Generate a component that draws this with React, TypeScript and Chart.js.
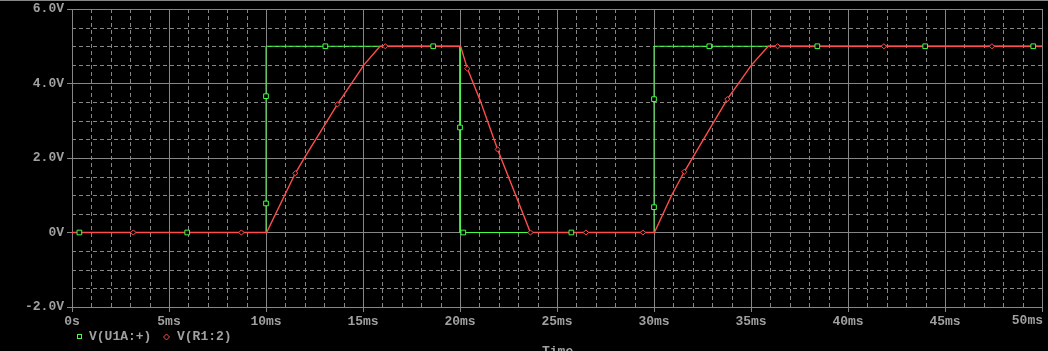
import React, { useEffect, useRef } from "react";
import { Chart, registerables } from "chart.js";

Chart.register(...registerables);

// ---- data ----
const seriesNames = ["V(U1A:+)", "V(R1:2)"];

const xTickValues = [0, 5, 10, 15, 20, 25, 30, 35, 40, 45, 50];
const xTickLabels = ["0s", "5ms", "10ms", "15ms", "20ms", "25ms", "30ms", "35ms", "40ms", "45ms", "50ms"];
const yTickValues = [-2, 0, 2, 4, 6];
const yTickLabels = ["-2.0V", "0V", "2.0V", "4.0V", "6.0V"];
const xTitle = "Time";

// V(U1A:+) – square wave (time in ms, volts)
const greenLineT = [0, 10, 10, 20, 20, 30, 30, 50];
const greenLineV = [0, 0, 5, 5, 0, 0, 5, 5];
const greenMarkT = [0.38, 5.94, 10, 10, 13.06, 18.62, 20, 20.17, 25.74, 30, 30, 32.85, 38.42, 43.98, 49.55];
const greenMarkV = [0, 0, 0.78, 3.66, 5, 5, 2.82, 0, 0, 0.68, 3.58, 5, 5, 5, 5];

// V(R1:2) – slew-limited response
const redLineT = [0, 10.03, 11.51, 12.01, 13.68, 15.05, 15.88, 20.03, 20.38, 21.03, 21.94, 23.63, 30.02, 30.91, 31.56, 33.78, 35.03, 35.89, 50];
const redLineV = [0, 0, 1.59, 2.03, 3.44, 4.5, 5, 5, 4.4, 3.56, 2.23, 0, 0, 1.0, 1.63, 3.58, 4.5, 5, 5];
const redMarkT = [3.16, 8.73, 11.51, 13.68, 16.15, 20.38, 21.94, 23.63, 26.49, 29.43, 31.56, 33.78, 36.37, 41.85, 47.42];
const redMarkV = [0, 0, 1.59, 3.44, 5, 4.4, 2.23, 0, 0, 0, 1.63, 3.58, 5, 5, 5];

// ---- styles ----
const GREEN = "#44ff44";
const RED = "#ff4d4d";
const GRID = "#868686";
const TEXT = "#a0a0a0";
const FONT_FAMILY = '"Liberation Mono", "DejaVu Sans Mono", monospace';
const FONT_SIZE = 13;
const FONT_WEIGHT = "bold";

const toXY = (t: number[], v: number[]) => t.map((x, i) => ({ x, y: v[i] }));

const pspicePlugin = {
  id: "pspice",
  beforeDraw(chart: any) {
    const { ctx, width, height } = chart;
    ctx.save();
    ctx.fillStyle = "#000";
    ctx.fillRect(0, 0, width, height);
    ctx.restore();
  },
  beforeDatasetsDraw(chart: any) {
    const { ctx, chartArea } = chart;
    const xs = chart.scales.x;
    const ys = chart.scales.y;
    ctx.save();
    ctx.strokeStyle = GRID;
    ctx.lineWidth = 1;
    ctx.setLineDash([4, 3]);
    ctx.beginPath();
    for (let t = 1; t < 50; t += 1) {
      if (t % 5 === 0) continue;
      const px = Math.round(xs.getPixelForValue(t)) + 0.5;
      ctx.moveTo(px, chartArea.top);
      ctx.lineTo(px, chartArea.bottom);
    }
    for (let k = 1; k < 16; k += 1) {
      if (k % 4 === 0) continue;
      const v = -2 + k * 0.5;
      const py = Math.round(ys.getPixelForValue(v)) + 0.5;
      ctx.moveTo(chartArea.left, py);
      ctx.lineTo(chartArea.right, py);
    }
    ctx.stroke();
    ctx.restore();
  },
  afterDraw(chart: any) {
    const { ctx, width, chartArea } = chart;
    const xs = chart.scales.x;
    ctx.save();
    // window frame line at top
    ctx.fillStyle = GRID;
    ctx.fillRect(0, 0, width, 1);

    ctx.font = `${FONT_WEIGHT} ${FONT_SIZE}px ${FONT_FAMILY}`;
    ctx.fillStyle = TEXT;

    // last x tick label sits flush with the plot's right edge
    const lastIdx = xTickValues.length - 1;
    ctx.textAlign = "right";
    ctx.textBaseline = "top";
    ctx.fillText(xTickLabels[lastIdx], chartArea.right + 1, xs.top + 7);

    ctx.textBaseline = "middle";
    ctx.textAlign = "left";
    const ly = 337;
    // legend item 1: hollow square
    ctx.strokeStyle = GREEN;
    ctx.lineWidth = 1;
    ctx.strokeRect(77.5, ly - 2.5, 4, 4);
    ctx.fillStyle = TEXT;
    ctx.fillText(seriesNames[0], 89, ly);
    // legend item 2: hollow diamond
    ctx.strokeStyle = RED;
    ctx.beginPath();
    ctx.moveTo(163.5, ly);
    ctx.lineTo(166.5, ly - 3);
    ctx.lineTo(169.5, ly);
    ctx.lineTo(166.5, ly + 3);
    ctx.closePath();
    ctx.stroke();
    ctx.fillStyle = TEXT;
    ctx.fillText(seriesNames[1], 177, ly);
    // axis title (cut off at the bottom edge, as in the reference)
    ctx.textBaseline = "top";
    ctx.fillText(xTitle, 542, 345);
    ctx.restore();
  },
};

export default function App() {
  const canvasRef = useRef<HTMLCanvasElement | null>(null);

  useEffect(() => {
    document.body.style.margin = "0";
    document.body.style.background = "#000";
    const canvas = canvasRef.current;
    if (!canvas) return;

    const chart = new Chart(canvas, {
      type: "line",
      data: {
        datasets: [
          {
            label: seriesNames[0] + " markers",
            data: toXY(greenMarkT, greenMarkV),
            showLine: false,
            pointStyle: "rect",
            pointRadius: 3.3,
            pointHoverRadius: 3.3,
            pointBorderWidth: 1,
            pointBorderColor: GREEN,
            pointBackgroundColor: "#000",
            order: 0,
          },
          {
            label: seriesNames[1] + " markers",
            data: toXY(redMarkT, redMarkV),
            showLine: false,
            pointStyle: "rectRot",
            pointRadius: 2.6,
            pointHoverRadius: 2.6,
            pointBorderWidth: 1,
            pointBorderColor: RED,
            pointBackgroundColor: "#000",
            order: 1,
          },
          {
            label: seriesNames[1],
            data: toXY(redLineT, redLineV),
            borderColor: RED,
            borderWidth: 1.4,
            pointRadius: 0,
            tension: 0,
            fill: false,
            order: 2,
          },
          {
            label: seriesNames[0],
            data: toXY(greenLineT, greenLineV),
            borderColor: GREEN,
            borderWidth: 1,
            pointRadius: 0,
            tension: 0,
            fill: false,
            order: 3,
          },
        ],
      },
      options: {
        animation: false,
        responsive: false,
        maintainAspectRatio: false,
        events: [],
        layout: { padding: { top: 9, right: 6, bottom: 0, left: 0 } },
        plugins: {
          legend: { display: false },
          tooltip: { enabled: false },
        },
        scales: {
          x: {
            type: "linear",
            min: 0,
            max: 50,
            afterBuildTicks: (scale: any) => {
              scale.ticks = xTickValues.map((value) => ({ value }));
            },
            afterFit: (scale: any) => {
              scale.height = 44;
              scale.paddingLeft = 0;
              scale.paddingRight = 0;
            },
            ticks: {
              autoSkip: false,
              maxRotation: 0,
              align: "center",
              padding: 2,
              color: TEXT,
              font: { family: FONT_FAMILY, size: FONT_SIZE, weight: FONT_WEIGHT },
              callback: (v: any) => {
                const i = xTickValues.indexOf(Number(v));
                // the last label is drawn flush-right by the plugin
                return i >= 0 && i < xTickValues.length - 1 ? xTickLabels[i] : "";
              },
            },
            grid: {
              color: GRID,
              lineWidth: 1,
              tickLength: 5,
              tickColor: GRID,
            },
            border: { display: true, color: GRID, width: 1 },
          },
          y: {
            type: "linear",
            min: -2,
            max: 6,
            afterBuildTicks: (scale: any) => {
              scale.ticks = yTickValues.map((value) => ({ value }));
            },
            afterFit: (scale: any) => {
              scale.width = 72;
              scale.paddingTop = 0;
              scale.paddingBottom = 0;
            },
            ticks: {
              autoSkip: false,
              padding: 3,
              color: TEXT,
              font: { family: FONT_FAMILY, size: FONT_SIZE, weight: FONT_WEIGHT },
              callback: (v: any) => {
                const i = yTickValues.indexOf(Number(v));
                return i >= 0 ? yTickLabels[i] : "";
              },
            },
            grid: {
              color: GRID,
              lineWidth: 1,
              tickLength: 5,
              tickColor: GRID,
            },
            border: { display: true, color: GRID, width: 1 },
          },
        },
      },
      plugins: [pspicePlugin],
    });

    return () => {
      chart.destroy();
    };
  }, []);

  return (
    <div style={{ width: 1048, height: 351, background: "#000", overflow: "hidden" }}>
      <canvas ref={canvasRef} width={1048} height={351} style={{ display: "block", width: 1048, height: 351 }} />
    </div>
  );
}
